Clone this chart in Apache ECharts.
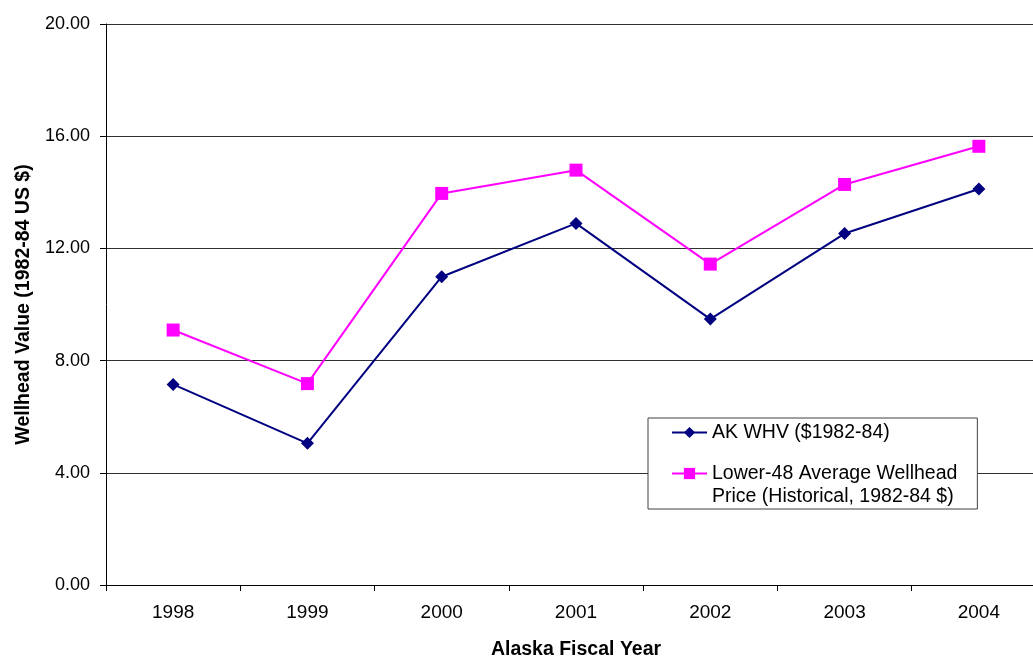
<!DOCTYPE html>
<html>
<head>
<meta charset="utf-8">
<script src="https://cdn.jsdelivr.net/npm/echarts@6/dist/echarts.min.js"></script>
<style>
  html, body { margin: 0; padding: 0; background: #fff; }
  #chart { width: 1033px; height: 658px; }
</style>
</head>
<body>
<div id="chart"></div>
<script>
// Fiscal years on the category axis
const years = ['1998', '1999', '2000', '2001', '2002', '2003', '2004'];

// Alaska wellhead value, 1982-84 dollars
const akWhv = [7.15, 5.05, 10.99, 12.89, 9.48, 12.53, 14.12];

// Lower-48 average wellhead price, 1982-84 dollars
const lower48 = [9.09, 7.18, 13.96, 14.79, 11.44, 14.28, 15.64];

// Value axis ticks
const yMin = 0;
const yMax = 20;
const yStep = 4;

const seriesNames = [
  'AK WHV ($1982-84)',
  'Lower-48 Average Wellhead\nPrice (Historical, 1982-84 $)'
];

const FONT = '"Liberation Sans", Arial, sans-serif';
const chart = echarts.init(document.getElementById('chart'), null, { renderer: 'canvas' });

chart.setOption({
  backgroundColor: '#ffffff',
  animation: false,
  textStyle: { fontFamily: FONT },
  grid: {
    left: 106,
    top: 24,
    bottom: 73,
    right: -13,
    containLabel: false,
    outerBoundsMode: 'none'
  },
  legend: {
    orient: 'vertical',
    left: 648,
    top: 418,
    padding: [3, 20, 1, 23],
    itemGap: -5,
    itemWidth: 35,
    itemHeight: 14,
    backgroundColor: '#ffffff',
    borderColor: '#404040',
    borderWidth: 1,
    // a leading blank line keeps the first line of a wrapped name level with its icon
    formatter: name => (name.indexOf('\n') >= 0 ? '\n' + name : name),
    textStyle: { fontFamily: FONT, fontSize: 19.5, color: '#000', lineHeight: 23 },
    data: seriesNames
  },
  xAxis: {
    type: 'category',
    data: years,
    boundaryGap: true,
    name: 'Alaska Fiscal Year',
    nameLocation: 'middle',
    nameGap: 55,
    nameTextStyle: { fontFamily: FONT, fontSize: 19.5, fontWeight: 'bold', color: '#000' },
    axisLine: { lineStyle: { color: '#000', width: 1 } },
    axisTick: { show: true, alignWithLabel: false, length: 6, lineStyle: { color: '#000' } },
    axisLabel: { fontFamily: FONT, fontSize: 19, color: '#000', margin: 18 },
    splitLine: { show: false }
  },
  yAxis: {
    type: 'value',
    min: yMin,
    max: yMax,
    interval: yStep,
    name: 'Wellhead Value (1982-84 US $)',
    nameLocation: 'middle',
    nameGap: 72,
    nameTextStyle: { fontFamily: FONT, fontSize: 19.5, fontWeight: 'bold', color: '#000' },
    axisLine: { show: true, lineStyle: { color: '#000', width: 1 } },
    axisTick: { show: true, length: 6, lineStyle: { color: '#000' } },
    axisLabel: {
      fontFamily: FONT, fontSize: 18, color: '#000', margin: 16,
      formatter: v => v.toFixed(2)
    },
    splitLine: { show: true, lineStyle: { color: '#303030', width: 1 } }
  },
  series: [
    {
      name: seriesNames[0],
      type: 'line',
      data: akWhv,
      symbol: 'diamond',
      symbolSize: 13,
      color: '#000080',
      lineStyle: { color: '#000080', width: 2 },
      itemStyle: { color: '#000080' },
      z: 3
    },
    {
      name: seriesNames[1],
      type: 'line',
      data: lower48,
      symbol: 'rect',
      symbolSize: 13,
      color: '#ff00ff',
      lineStyle: { color: '#ff00ff', width: 2 },
      itemStyle: { color: '#ff00ff' },
      z: 2
    }
  ]
});
</script>
</body>
</html>
